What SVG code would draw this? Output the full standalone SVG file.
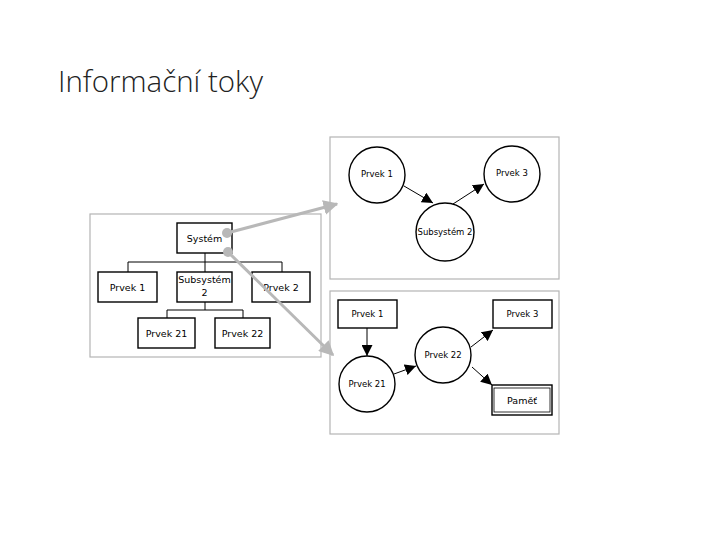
<svg xmlns="http://www.w3.org/2000/svg" width="720" height="540" viewBox="0 0 720 540">
<style>
.panel{fill:#fff;stroke:#b4b4b4;stroke-width:1.2}
.box{fill:#fff;stroke:#000;stroke-width:1.4}
.ln{fill:none;stroke:#000;stroke-width:1}
.t{font-family:"DejaVu Sans",Verdana,sans-serif;font-size:9.5px;fill:#000;text-anchor:middle}
.ts{font-family:"DejaVu Sans",Verdana,sans-serif;font-size:8.5px;fill:#000;text-anchor:middle}
.ar{fill:none;stroke:#000;stroke-width:1;marker-end:url(#ah)}
.g{stroke:#b8b8b8;stroke-width:3;fill:none;marker-end:url(#gh)}
</style>
<defs>
<marker id="ah" viewBox="0 0 10 10" refX="10" refY="5" markerWidth="11" markerHeight="11" markerUnits="userSpaceOnUse" orient="auto"><path d="M0,0 L10,5 L0,10 z" fill="#000"/></marker>
<marker id="gh" viewBox="0 0 10 10" refX="9" refY="5" markerWidth="5" markerHeight="5" orient="auto"><path d="M0,0 L10,5 L0,10 z" fill="#b8b8b8"/></marker>
</defs>
<rect width="720" height="540" fill="#fff"/>
<text x="58" y="92" font-family="'Open Sans',sans-serif" font-weight="300" font-size="29.5" fill="#222">Informační toky</text>

<g id="left-panel">
<rect class="panel" x="90" y="214" width="231" height="143"/>
</g>
<g id="tree-lines">
<path class="ln" d="M205,253 V262 M128,262 H282 M128,262 V272 M205,262 V272 M282,262 V272 M205,302 V310 M167,310 H243 M167,310 V318 M243,310 V318"/>
</g>
<g id="system"><rect class="box" x="177" y="223" width="55" height="30"/><text class="t" x="204.5" y="242">Systém</text></g>
<g id="t-prvek1"><rect class="box" x="98" y="272" width="59" height="30"/><text class="t" x="127.5" y="291">Prvek 1</text></g>
<g id="t-subsystem2"><rect class="box" x="177" y="272" width="55" height="30"/><text class="t" x="204.5" y="283">Subsystém</text><text class="t" x="204.5" y="296">2</text></g>
<g id="t-prvek2"><rect class="box" x="252" y="272" width="58" height="30"/><text class="t" x="281" y="291">Prvek 2</text></g>
<g id="t-prvek21"><rect class="box" x="138" y="318" width="57" height="30"/><text class="t" x="166.5" y="337">Prvek 21</text></g>
<g id="t-prvek22"><rect class="box" x="215" y="318" width="55" height="30"/><text class="t" x="242.5" y="337">Prvek 22</text></g>

<g id="top-panel"><rect class="panel" x="330" y="137" width="229" height="142"/></g>
<g id="c-prvek1"><circle class="box" cx="377" cy="175" r="28"/><text class="ts" x="377" y="177">Prvek 1</text></g>
<g id="c-prvek3"><circle class="box" cx="512" cy="174" r="28"/><text class="ts" x="512" y="176">Prvek 3</text></g>
<g id="c-subsystem2"><circle class="box" cx="445" cy="232" r="29"/><text class="ts" x="445" y="235">Subsystém 2</text></g>

<g id="bottom-panel"><rect class="panel" x="330" y="291" width="229" height="143"/></g>
<g id="b-prvek1"><rect class="box" x="338" y="300" width="59" height="28"/><text class="ts" x="367.5" y="317">Prvek 1</text></g>
<g id="b-prvek3"><rect class="box" x="493" y="300" width="59" height="28"/><text class="ts" x="522.5" y="317">Prvek 3</text></g>
<g id="b-prvek21"><circle class="box" cx="367" cy="384" r="28"/><text class="ts" x="367" y="387">Prvek 21</text></g>
<g id="b-prvek22"><circle class="box" cx="443" cy="355" r="28"/><text class="ts" x="443" y="358">Prvek 22</text></g>
<g id="b-pamet"><rect class="box" x="492" y="385" width="60" height="30"/><rect fill="none" stroke="#000" stroke-width="0.8" x="494" y="388" width="56" height="24"/><text class="t" x="522" y="404">Paměť</text></g>

<g id="connectors">
<path class="ar" d="M404,186 L433,203"/>
<path class="ar" d="M453,204 L484,184"/>
<path class="ar" d="M367,328 L367,356"/>
<path class="ar" d="M394,374 L416,366"/>
<path class="ar" d="M471,347 L493,330"/>
<path class="ar" d="M472,367 L492,385"/>
<circle cx="227" cy="233" r="5" fill="#b8b8b8"/>
<path class="g" d="M227,233 L337,204"/>
<circle cx="228" cy="252" r="5" fill="#b8b8b8"/>
<path class="g" d="M228,252 L333,355"/>
</g>
</svg>
